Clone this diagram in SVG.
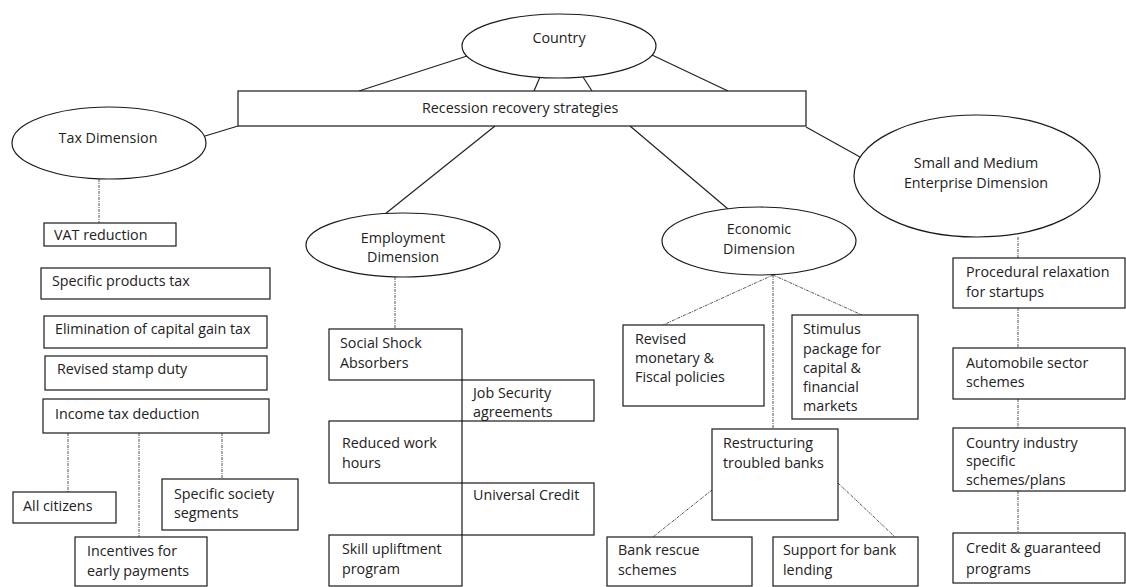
<svg xmlns="http://www.w3.org/2000/svg" width="1126" height="587" viewBox="0 0 1126 587">
<style>
  .shape { fill: #fff; stroke: #1a1a1a; stroke-width: 1.2; }
  .t { font-family: "Open Sans", "Liberation Sans", sans-serif; font-size: 14.3px; fill: #222; }
  .c { text-anchor: middle; }
  .solid { stroke: #222; stroke-width: 1.2; fill: none; }
  .dash { stroke: #555; stroke-width: 1; stroke-dasharray: 3 1 1 1; fill: none; }
</style>
<rect width="1126" height="587" fill="#fff"/>
<g id="connectors">
  <line class="solid" x1="467" y1="56" x2="359" y2="91"/>
  <line class="solid" x1="540" y1="77" x2="534" y2="91"/>
  <line class="solid" x1="583" y1="77" x2="592" y2="91"/>
  <line class="solid" x1="652" y1="55" x2="728" y2="91"/>
  <line class="solid" x1="205" y1="136" x2="238" y2="126"/>
  <line class="solid" x1="495" y1="126" x2="385" y2="214"/>
  <line class="solid" x1="630" y1="126" x2="728" y2="209"/>
  <line class="solid" x1="806" y1="127" x2="860" y2="157"/>
  <line class="dash" x1="99" y1="179" x2="99" y2="223"/>
  <line class="dash" x1="68" y1="433" x2="68" y2="492"/>
  <line class="dash" x1="139" y1="433" x2="139" y2="537"/>
  <line class="dash" x1="222" y1="433" x2="222" y2="479"/>
  <line class="dash" x1="395" y1="277" x2="395" y2="329"/>
  <line class="dash" x1="773" y1="275" x2="663" y2="325"/>
  <line class="dash" x1="773" y1="275" x2="773" y2="429"/>
  <line class="dash" x1="773" y1="275" x2="862" y2="315"/>
  <line class="dash" x1="712" y1="490" x2="653" y2="537"/>
  <line class="dash" x1="838" y1="483" x2="895" y2="537"/>
  <line class="dash" x1="1018" y1="237" x2="1018" y2="258"/>
  <line class="dash" x1="1018" y1="308" x2="1018" y2="348"/>
  <line class="dash" x1="1018" y1="399" x2="1018" y2="428"/>
  <line class="dash" x1="1018" y1="491" x2="1018" y2="533"/>
</g>
<g id="country"><ellipse class="shape" cx="559" cy="46" rx="97" ry="32"/><text class="t c" x="559" y="43">Country</text></g>
<g id="recession"><rect class="shape" x="238" y="91" width="568" height="35"/><text class="t" x="422" y="113">Recession recovery strategies</text></g>
<g id="tax"><ellipse class="shape" cx="109" cy="143" rx="97" ry="36"/><text class="t c" x="108" y="143">Tax Dimension</text></g>
<g id="employment"><ellipse class="shape" cx="403" cy="245" rx="97" ry="32"/><text class="t c" x="403" y="243">Employment</text><text class="t c" x="403" y="262">Dimension</text></g>
<g id="economic"><ellipse class="shape" cx="759" cy="241" rx="97" ry="34"/><text class="t c" x="759" y="234">Economic</text><text class="t c" x="759" y="254">Dimension</text></g>
<g id="sme"><ellipse class="shape" cx="977" cy="176" rx="123" ry="61"/><text class="t c" x="976" y="168">Small and Medium</text><text class="t c" x="976" y="188">Enterprise Dimension</text></g>

<g id="vat"><rect class="shape" x="44" y="223" width="132" height="23"/><text class="t" x="54" y="240">VAT reduction</text></g>
<g id="products"><rect class="shape" x="41" y="268" width="229" height="31"/><text class="t" x="52" y="286">Specific products tax</text></g>
<g id="capital"><rect class="shape" x="44" y="316" width="223" height="32"/><text class="t" x="55" y="334">Elimination of capital gain tax</text></g>
<g id="stamp"><rect class="shape" x="45" y="356" width="222" height="34"/><text class="t" x="57" y="374">Revised stamp duty</text></g>
<g id="income"><rect class="shape" x="43" y="399" width="226" height="34"/><text class="t" x="55" y="419">Income tax deduction</text></g>
<g id="citizens"><rect class="shape" x="13" y="492" width="103" height="31"/><text class="t" x="23" y="511">All citizens</text></g>
<g id="society"><rect class="shape" x="162" y="479" width="136" height="51"/><text class="t" x="174" y="499">Specific society</text><text class="t" x="174" y="518">segments</text></g>
<g id="incentives"><rect class="shape" x="75" y="537" width="132" height="49"/><text class="t" x="87" y="556">Incentives for</text><text class="t" x="87" y="576">early payments</text></g>

<g id="shock"><rect class="shape" x="329" y="329" width="133" height="51"/><text class="t" x="340" y="348">Social Shock</text><text class="t" x="340" y="368">Absorbers</text></g>
<g id="jobsec"><rect class="shape" x="462" y="380" width="132" height="41"/><text class="t" x="473" y="398">Job Security</text><text class="t" x="473" y="417">agreements</text></g>
<g id="reduced"><rect class="shape" x="329" y="421" width="133" height="62"/><text class="t" x="342" y="448">Reduced work</text><text class="t" x="342" y="468">hours</text></g>
<g id="universal"><rect class="shape" x="462" y="483" width="132" height="52"/><text class="t" x="473" y="500">Universal Credit</text></g>
<g id="skill"><rect class="shape" x="329" y="535" width="133" height="51"/><text class="t" x="342" y="554">Skill upliftment</text><text class="t" x="342" y="574">program</text></g>

<g id="monetary"><rect class="shape" x="623" y="325" width="141" height="81"/><text class="t" x="635" y="344">Revised</text><text class="t" x="635" y="363">monetary &amp;</text><text class="t" x="635" y="382">Fiscal policies</text></g>
<g id="stimulus"><rect class="shape" x="792" y="315" width="126" height="104"/><text class="t" x="803" y="334">Stimulus</text><text class="t" x="803" y="354">package for</text><text class="t" x="803" y="373">capital &amp;</text><text class="t" x="803" y="392">financial</text><text class="t" x="803" y="411">markets</text></g>
<g id="restructuring"><rect class="shape" x="712" y="429" width="126" height="91"/><text class="t" x="723" y="448">Restructuring</text><text class="t" x="723" y="468">troubled banks</text></g>
<g id="rescue"><rect class="shape" x="607" y="537" width="145" height="49"/><text class="t" x="618" y="555">Bank rescue</text><text class="t" x="618" y="575">schemes</text></g>
<g id="lending"><rect class="shape" x="773" y="537" width="145" height="49"/><text class="t" x="783" y="555">Support for bank</text><text class="t" x="783" y="575">lending</text></g>

<g id="procedural"><rect class="shape" x="953" y="258" width="172" height="50"/><text class="t" x="966" y="277">Procedural relaxation</text><text class="t" x="966" y="297">for startups</text></g>
<g id="automobile"><rect class="shape" x="953" y="348" width="172" height="51"/><text class="t" x="966" y="368">Automobile sector</text><text class="t" x="966" y="387">schemes</text></g>
<g id="industry"><rect class="shape" x="953" y="428" width="172" height="63"/><text class="t" x="966" y="448">Country industry</text><text class="t" x="966" y="466">specific</text><text class="t" x="966" y="485">schemes/plans</text></g>
<g id="credit"><rect class="shape" x="953" y="533" width="172" height="50"/><text class="t" x="966" y="553">Credit &amp; guaranteed</text><text class="t" x="966" y="574">programs</text></g>
</svg>
